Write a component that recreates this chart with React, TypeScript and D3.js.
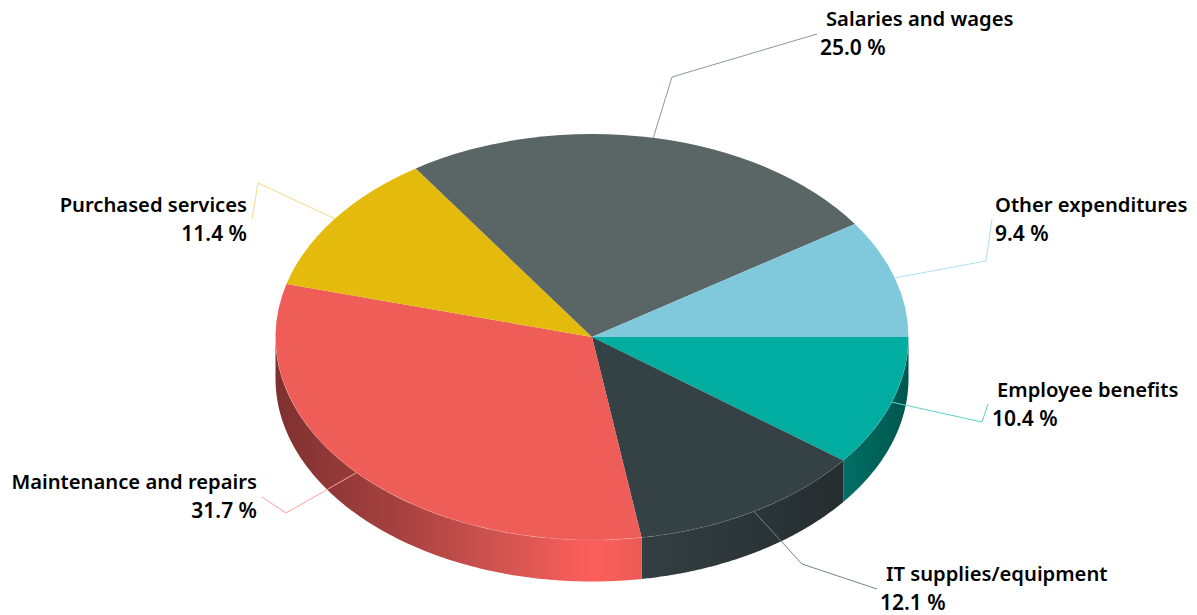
import React from "react";
import * as d3 from "d3";

// Expenditure shares, clockwise from three o'clock
const categories = [
  "Employee benefits",
  "IT supplies/equipment",
  "Maintenance and repairs",
  "Purchased services",
  "Salaries and wages",
  "Other expenditures",
];
const shares = [10.4, 12.1, 31.7, 11.4, 25.0, 9.4];
const sliceColors = ["#00ada0", "#344145", "#ee5d58", "#e4bb0c", "#5a6565", "#80c8dc"];
const leaderColors = ["#5fd0c8", "#7d8486", "#fba09d", "#f5dc80", "#8f9797", "#aee0ec"];

// Gradient stops along each visible wall, left to right in slice-relative offsets
const wallStops: Record<number, [number, string][]> = {
  0: [[0, "#006f65"], [1, "#00564e"]],
  1: [[0, "#333f42"], [1, "#252d2f"]],
  2: [[0, "#7f3030"], [0.35, "#a84240"], [0.62, "#d25451"], [0.875, "#fe5f5b"], [1, "#ea5a56"]],
};

// Label block placement: line 1 anchor x, line 2 anchor x, first baseline, text-anchor
const labelLayout: { x1: number; x2: number; y: number; anchor: string }[] = [
  { x1: 997, x2: 992, y: 396.5, anchor: "start" },
  { x1: 886, x2: 880, y: 581, anchor: "start" },
  { x1: 257, x2: 257, y: 489, anchor: "end" },
  { x1: 247, x2: 247, y: 211.5, anchor: "end" },
  { x1: 826, x2: 820, y: 26, anchor: "start" },
  { x1: 995, x2: 995, y: 211.5, anchor: "start" },
];
// Elbow and end of each leader line, in page space
const leaderBends: [number, number][][] = [
  [[982, 422], [988, 404]],
  [[802, 564], [877, 589]],
  [[286, 513], [262, 497]],
  [[258, 183], [252, 219]],
  [[672, 77], [817, 34]],
  [[986, 261], [992, 219]],
];

const W = 1197;
const H = 615;
const CX = 592;
const CY = 337;
const RX = 316.5;
const RY = 203;
const DEPTH = 41.5;
const FONT = "'Noto Sans', sans-serif";

// Angles from d3.pie use 0 at twelve o'clock, so start the pie at three o'clock
const arcs = d3
  .pie<number>()
  .sort(null)
  .startAngle(Math.PI / 2)
  .endAngle(Math.PI / 2 + 2 * Math.PI)(shares);

const topArc = d3.arc<d3.PieArcDatum<number>>().innerRadius(0).outerRadius(RX);

const rimPoint = (a: number, dy = 0): [number, number] => [
  CX + RX * Math.sin(a),
  CY - RY * Math.cos(a) + dy,
];

// Sampled rim of a slice, limited to the half that faces the viewer
function frontAngles(start: number, end: number): number[] | null {
  const s = Math.max(start, Math.PI / 2);
  const e = Math.min(end, (3 * Math.PI) / 2);
  if (e <= s) return null;
  return d3.range(0, 121).map((i) => s + ((e - s) * i) / 120);
}

function wallPath(start: number, end: number): string | null {
  const angles = frontAngles(start, end);
  if (!angles) return null;
  const top = angles.map((a) => rimPoint(a));
  const bottom = angles.map((a) => rimPoint(a, DEPTH)).reverse();
  return d3.line()([...top, ...bottom]) + "Z";
}

function rimPath(start: number, end: number): string | null {
  const angles = frontAngles(start, end);
  return angles ? d3.line()(angles.map((a) => rimPoint(a))) : null;
}

export default function App() {
  return (
    <svg
      width={W}
      height={H}
      viewBox={`0 0 ${W} ${H}`}
      style={{ position: "absolute", left: 0, top: 0, background: "#fff" }}
    >
      <defs>
        {arcs.map((d, i) => {
          const stops = wallStops[i];
          if (!stops) return null;
          const s = Math.max(d.startAngle, Math.PI / 2);
          const e = Math.min(d.endAngle, (3 * Math.PI) / 2);
          const xs = [rimPoint(s)[0], rimPoint(e)[0]];
          return (
            <linearGradient
              key={i}
              id={`wall-${i}`}
              gradientUnits="userSpaceOnUse"
              x1={d3.min(xs)}
              x2={d3.max(xs)}
              y1={0}
              y2={0}
            >
              {stops.map(([o, c]) => (
                <stop key={o} offset={o} stopColor={c} />
              ))}
            </linearGradient>
          );
        })}
      </defs>

      {arcs.map((d, i) => {
        const p = wallPath(d.startAngle, d.endAngle);
        return p ? <path key={i} d={p} fill={`url(#wall-${i})`} /> : null;
      })}

      <g transform={`translate(${CX},${CY}) scale(1,${RY / RX})`}>
        {arcs.map((d, i) => (
          <path key={i} d={topArc(d) ?? ""} fill={sliceColors[i]} />
        ))}
      </g>

      {/* Faint highlight where the top face meets the wall */}
      {arcs.map((d, i) => {
        const p = rimPath(d.startAngle, d.endAngle);
        return p ? (
          <path key={i} d={p} fill="none" stroke="#fff" strokeOpacity={0.16} strokeWidth={0.7} />
        ) : null;
      })}

      {arcs.map((d, i) => {
        const mid = (d.startAngle + d.endAngle) / 2;
        return (
          <polyline
            key={i}
            points={[rimPoint(mid), ...leaderBends[i]].join(" ")}
            fill="none"
            stroke={leaderColors[i]}
            strokeWidth={1}
          />
        );
      })}

      {categories.map((name, i) => {
        const l = labelLayout[i];
        return (
          <text
            key={name}
            fontFamily={FONT}
            fontWeight={600}
            fill="#000"
            textAnchor={l.anchor}
          >
            <tspan x={l.x1} y={l.y} fontSize={20.2}>{name}</tspan>
            <tspan x={l.x2} y={l.y + 29} fontSize={21}>{shares[i].toFixed(1)} %</tspan>
          </text>
        );
      })}
    </svg>
  );
}
